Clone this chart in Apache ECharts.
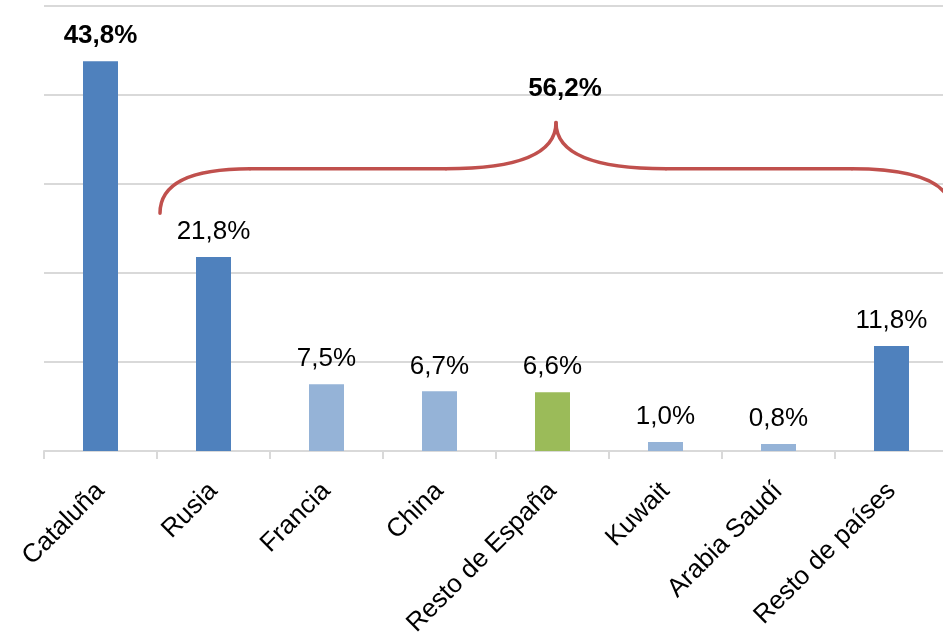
<!DOCTYPE html>
<html>
<head>
<meta charset="utf-8">
<script src="https://cdn.jsdelivr.net/npm/echarts@6/dist/echarts.min.js"></script>
<style>
  html, body { margin: 0; padding: 0; background: #fff; }
  #chart { width: 943px; height: 636px; }
</style>
</head>
<body>
<div id="chart"></div>
<script>
// Destinos: peso de cada mercado (%)
const categories = ['Cataluña', 'Rusia', 'Francia', 'China', 'Resto de España', 'Kuwait', 'Arabia Saudí', 'Resto de países'];
const shares = [43.8, 21.8, 7.5, 6.7, 6.6, 1.0, 0.8, 11.8];
const barColors = ['#4F81BD', '#4F81BD', '#95B3D7', '#95B3D7', '#9BBB59', '#95B3D7', '#95B3D7', '#4F81BD'];
const boldLabels = [true, false, false, false, false, false, false, false];
// Total fuera de Cataluña, rotulado sobre la llave
const outsideTotal = 56.2;
const yTicks = [0, 10, 20, 30, 40, 50];

const fmt = v => v.toFixed(1).replace('.', ',') + '%';
const FONT = '"Liberation Sans", Arial, sans-serif';

const chart = echarts.init(document.getElementById('chart'), null, { renderer: 'canvas' });

chart.setOption({
  animation: false,
  backgroundColor: '#ffffff',
  grid: {
    left: 44, top: 6, width: 904, bottom: 185,
    containLabel: false,
    outerBoundsMode: 'none'
  },
  xAxis: {
    type: 'category',
    data: categories,
    axisLine: { lineStyle: { color: '#d9d9d9', width: 2 } },
    axisTick: { show: true, length: 8, lineStyle: { color: '#d9d9d9', width: 2 } },
    axisLabel: {
      rotate: 45,
      margin: 36,
      interval: 0,
      color: '#000',
      fontFamily: FONT,
      fontSize: 26
    }
  },
  yAxis: {
    type: 'value',
    min: yTicks[0],
    max: yTicks[yTicks.length - 1],
    interval: 10,
    axisLabel: { show: false },
    axisLine: { show: false },
    axisTick: { show: false },
    splitLine: { lineStyle: { color: '#d9d9d9', width: 2 } }
  },
  series: [{
    type: 'bar',
    barWidth: 35,
    data: shares.map((v, i) => ({
      value: v,
      itemStyle: { color: barColors[i] },
      label: {
        show: true,
        position: 'top',
        distance: 12,
        formatter: fmt(v),
        color: '#000',
        fontFamily: FONT,
        fontSize: 26,
        fontWeight: boldLabels[i] ? 'bold' : 'normal'
      }
    }))
  }]
});

// Llave que agrupa los destinos fuera de Cataluña
function drawBrace() {
  const px = (cat, val) => chart.convertToPixel({ gridIndex: 0 }, [cat, val]);
  const step = px(1, 0)[0] - px(0, 0)[0];
  const xL = px(0, 0)[0] + step / 2 + 3;          // borde entre Cataluña y Rusia
  const xR = px(categories.length - 1, 0)[0] + step / 2 + 4;
  const xP = (xL + xR) / 2;
  const yE = px(0, 26.7)[1];
  const yF = px(0, 31.7)[1];
  const yT = px(0, 36.9)[1];
  const yLbl = px(0, 40.7)[1];

  const stroke = { fill: null, stroke: '#C0504D', lineWidth: 3.5, lineCap: 'round' };
  const curve = (x1, y1, cx, cy, x2, y2) => ({
    type: 'bezierCurve',
    shape: { x1, y1, cpx1: cx, cpy1: cy, x2, y2 },
    style: stroke, silent: true
  });
  const seg = (x1, y1, x2, y2) => ({
    type: 'line',
    shape: { x1, y1, x2, y2 },
    style: stroke, silent: true
  });

  chart.setOption({
    graphic: [
      curve(xL, yE, xL, yF, xL + 90, yF),
      seg(xL + 90, yF, xP - 110, yF),
      curve(xP - 110, yF, xP, yF, xP, yT),
      curve(xP, yT, xP, yF, xP + 110, yF),
      seg(xP + 110, yF, xR - 100, yF),
      curve(xR - 100, yF, xR, yF, xR, yE),
      {
        type: 'text',
        x: xP + 9,
        y: yLbl,
        silent: true,
        style: {
          text: fmt(outsideTotal),
          fill: '#000',
          font: 'bold 26px ' + FONT,
          align: 'center',
          verticalAlign: 'middle'
        }
      }
    ]
  });
}
drawBrace();
</script>
</body>
</html>
